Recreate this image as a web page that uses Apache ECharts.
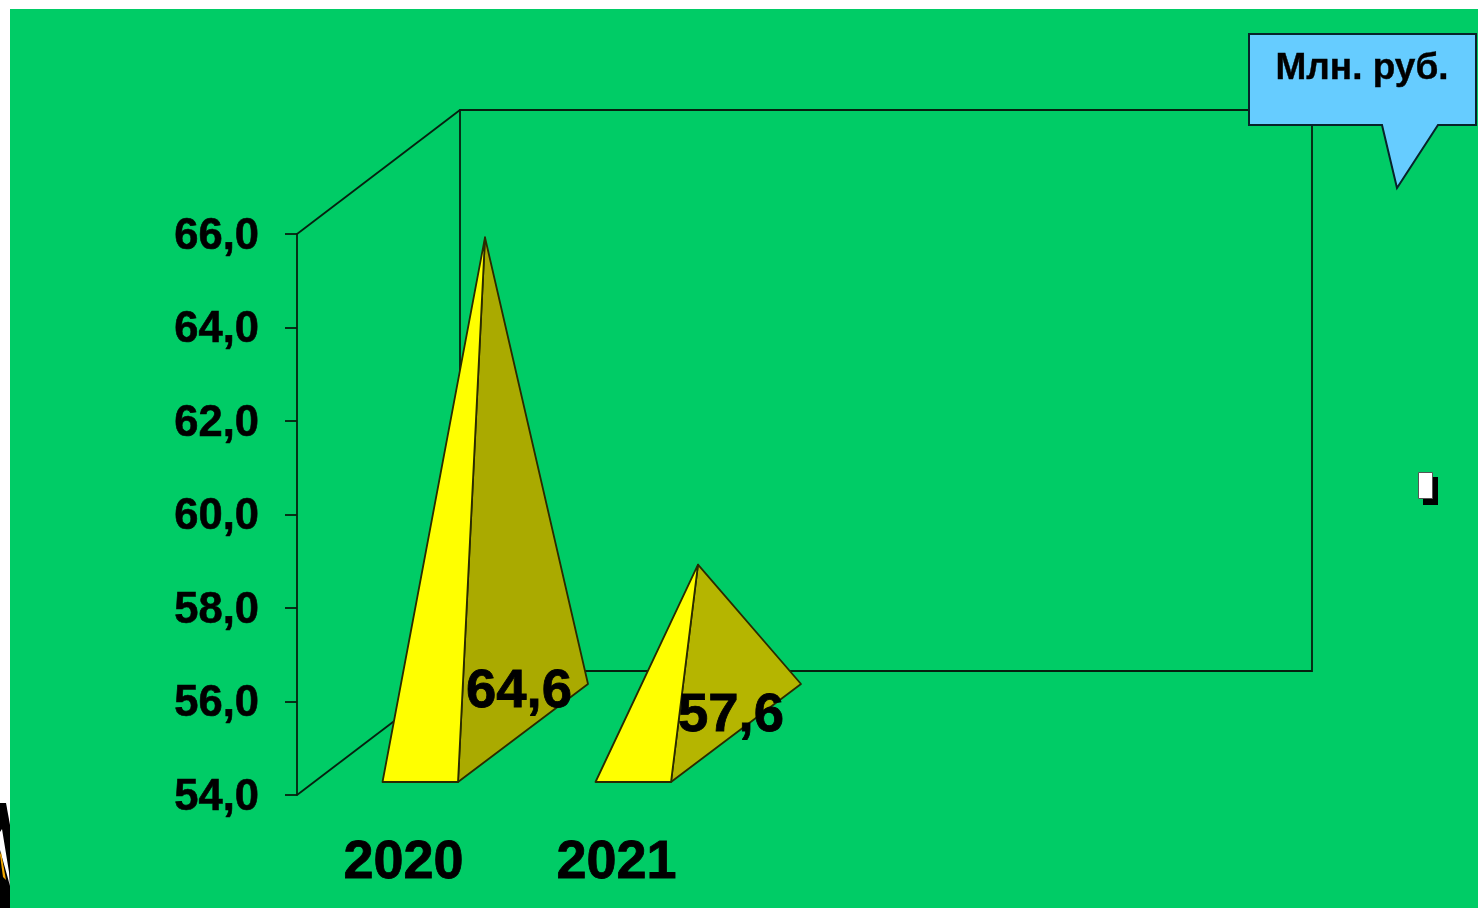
<!DOCTYPE html>
<html><head><meta charset="utf-8">
<style>html,body{margin:0;padding:0;background:#fff}#c{width:1478px;height:908px}</style>
<script src="https://cdn.jsdelivr.net/npm/echarts@6/dist/echarts.min.js"></script>
</head><body><div id="c"></div>
<script>
const categories = ['2020', '2021', '', ''];
const values = [64.6, 57.6];
const valueLabels = ['64,6', '57,6'];
const unitLabel = 'Млн. руб.';
const sideColors = ['#AAAA00', '#B5B500'];
const labelPos = [[519, 692], [731, 716]];
const FONT = '"Liberation Sans", Arial, sans-serif';
const DX = 163, DY = -124, LINE = '#06200F';

const chart = echarts.init(document.getElementById('c'), null, {renderer: 'canvas'});

function renderWall(params, api) {
  const bl = api.coord([0, 54]);
  const size = api.size([1, 0]);
  const left = bl[0] - size[0] / 2;
  const right = left + size[0] * 4;
  const bottom = bl[1];
  const top = api.coord([0, 66])[1];
  const style = {stroke: LINE, lineWidth: 1.8, fill: null};
  const line = (x1, y1, x2, y2) => ({type: 'line', shape: {x1, y1, x2, y2}, style, silent: true});
  return {type: 'group', children: [
    line(left, top, left + DX, top + DY),
    line(left, bottom, left + DX, bottom + DY),
    {type: 'rect', shape: {x: left + DX, y: top + DY, width: right - left, height: bottom - top}, style, silent: true}
  ]};
}

function renderPyramid(params, api) {
  const i = params.dataIndex;
  const top = api.coord([i, api.value(1)]);
  const cx = top[0], floor = api.coord([i, 54])[1] - 13;
  const apex = [cx + DX / 2, top[1] + DY / 2];
  const a = [cx - 21, floor], b = [cx + 54.5, floor], c = [cx + 184.5, floor - 98];
  const border = {stroke: '#2A2A00', lineWidth: 1.8, lineJoin: 'round'};
  return {type: 'group', children: [
    {type: 'polygon', shape: {points: [b, c, apex]}, style: Object.assign({fill: sideColors[i]}, border)},
    {type: 'polygon', shape: {points: [a, b, apex]}, style: Object.assign({fill: '#FFFF00'}, border)},
    {type: 'text', z2: 20, style: {x: labelPos[i][0], y: labelPos[i][1], text: valueLabels[i], fill: '#000',
      stroke: '#000', lineWidth: 0.8, font: 'bold 54.5px ' + FONT, align: 'center', verticalAlign: 'middle'}}
  ]};
}

chart.setOption({
  animation: false,
  backgroundColor: '#FFFFFF',
  grid: {left: 297, top: 234, width: 852, height: 561, containLabel: false},
  xAxis: {type: 'category', data: categories, axisLine: {show: false}, axisTick: {show: false},
    splitLine: {show: false},
    axisLabel: {color: '#000', fontFamily: FONT, fontWeight: 'bold', fontSize: 54, margin: 41, interval: 0,
      textBorderColor: '#000', textBorderWidth: 0.8}},
  yAxis: {type: 'value', min: 54, max: 66, interval: 2, splitLine: {show: false},
    axisLine: {show: true, lineStyle: {color: LINE, width: 1.8}},
    axisTick: {show: true, length: 12, lineStyle: {color: LINE, width: 1.8}},
    axisLabel: {margin: 38,
      formatter: v => '{a|' + v.toFixed(1).replace('.', ',') + '}',
      rich: {a: {color: '#000', fontFamily: FONT, fontWeight: 'bold', fontSize: 43.5, padding: [5, 0, 0, 0],
        textBorderColor: '#000', textBorderWidth: 0.6}}}},
  graphic: [
    {type: 'rect', z: -10, shape: {x: 10, y: 9, width: 1468, height: 899}, style: {fill: '#00CC66'}},
    {type: 'polygon', z: -9, shape: {points: [[0, 803], [6, 803], [10, 825], [10, 908], [0, 908]]}, style: {fill: '#000'}},
    {type: 'polygon', z: -9, shape: {points: [[0, 832], [2, 829], [9, 872], [10, 886], [7, 875], [0, 850]]}, style: {fill: '#fff'}},
    {type: 'polygon', z: -9, shape: {points: [[0, 855], [1, 852], [6, 880], [3, 877]]}, style: {fill: '#F5A800'}},
    {type: 'polygon', z: 50, shape: {points: [[1249, 34], [1476, 34], [1476, 125], [1438, 125], [1397, 188], [1382, 125], [1249, 125]]},
      style: {fill: '#66CCFF', stroke: '#08222A', lineWidth: 2}},
    {type: 'text', z: 51, style: {x: 1362, y: 69, text: unitLabel, fill: '#000', stroke: '#000', lineWidth: 0.4, font: 'bold 37px ' + FONT, align: 'center', verticalAlign: 'middle'}},
    {type: 'rect', z: 40, shape: {x: 1423, y: 477, width: 15, height: 28}, style: {fill: '#000'}},
    {type: 'rect', z: 41, shape: {x: 1418.5, y: 472.5, width: 14, height: 26}, style: {fill: '#fff', stroke: '#555', lineWidth: 1}}
  ],
  series: [
    {type: 'custom', z: 1, coordinateSystem: 'cartesian2d', renderItem: renderWall, silent: true, data: [[0, 54]], encode: {x: 0, y: 1}, clip: false},
    {type: 'custom', z: 2, coordinateSystem: 'cartesian2d', renderItem: renderPyramid, silent: true, clip: false,
      data: values.map((v, i) => [i, v]), encode: {x: 0, y: 1}}
  ]
});
</script></body></html>
